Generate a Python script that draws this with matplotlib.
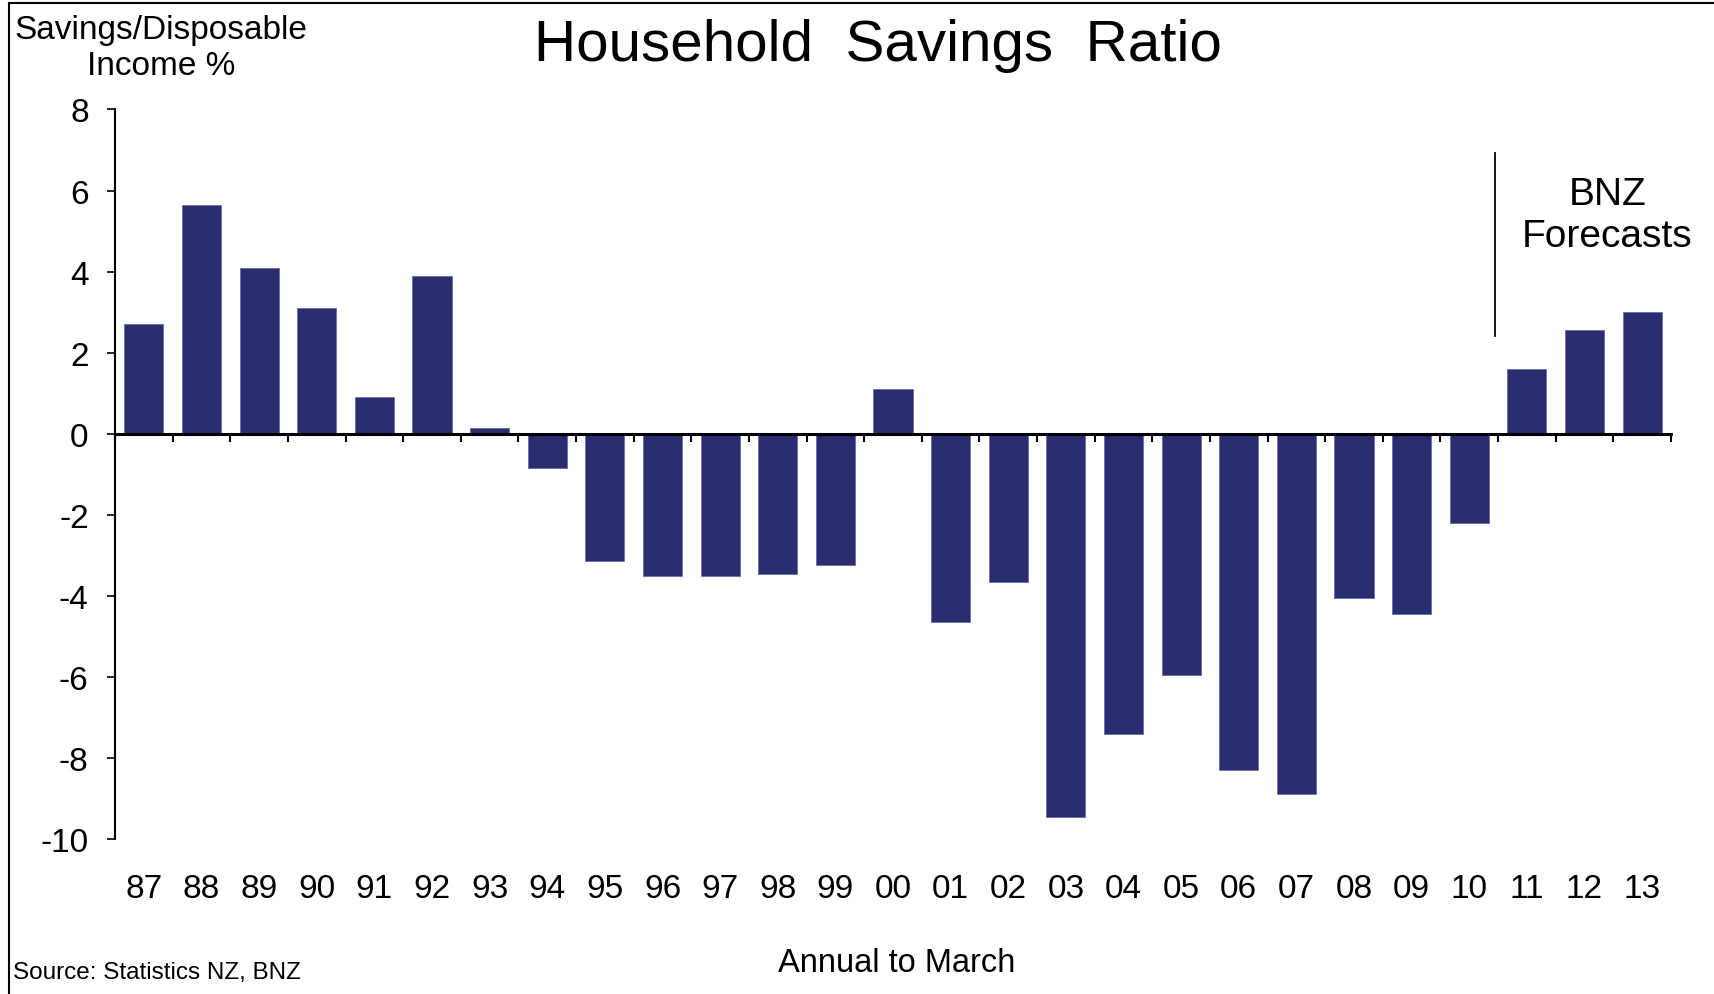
import numpy as np
import matplotlib
matplotlib.use("Agg")
import matplotlib.pyplot as plt
from matplotlib.lines import Line2D
from matplotlib import transforms

plt.rcParams['font.family'] = ['Liberation Sans', 'DejaVu Sans']

# data (annual to March)
years = ['87', '88', '89', '90', '91', '92', '93', '94', '95', '96', '97', '98', '99',
         '00', '01', '02', '03', '04', '05', '06', '07', '08', '09', '10', '11', '12', '13']
ratio = [2.7, 5.65, 4.1, 3.1, 0.9, 3.9, 0.15, -0.85, -3.15, -3.5, -3.5, -3.45, -3.25,
         1.1, -4.65, -3.65, -9.45, -7.4, -5.95, -8.3, -8.9, -4.05, -4.45, -2.2, 1.6, 2.55, 3.0]
yticks = [-10, -8, -6, -4, -2, 0, 2, 4, 6, 8]

fig = plt.figure(figsize=(17.15, 9.95), dpi=100)
ax = fig.add_axes([0.0671, 0.1558, 0.9072, 0.7332])

x = np.arange(len(years))
ax.bar(x, ratio, width=0.68, color='#2a2c70', edgecolor='#6a6ca8', linewidth=0.6, zorder=2)

ax.set_xlim(-0.5, len(years) - 0.5)
ax.set_ylim(-10, 8)

for s in ['top', 'right']:
    ax.spines[s].set_visible(False)
ax.spines['bottom'].set_position(('data', 0))
ax.spines['bottom'].set_linewidth(2.2)
ax.spines['bottom'].set_zorder(3)
ax.spines['left'].set_linewidth(1.5)

ax.set_yticks(yticks)
ax.set_yticklabels([str(v) for v in yticks])
ax.tick_params(axis='y', direction='out', length=6, width=1.2, pad=13, labelsize=24)
ax.set_xticks(np.arange(-0.5, len(years)))
ax.set_xticklabels([])
ax.tick_params(axis='x', direction='out', length=6, width=1.5)

# category labels sit under the plot, not at the zero line
trans = transforms.blended_transform_factory(ax.transData, ax.transAxes)
for xi, lab in zip(x, years):
    ax.text(xi, -0.068, lab, transform=trans, ha='center', va='center', fontsize=24)

# forecast marker
ax.plot([23.45, 23.45], [2.4, 6.93], color='black', linewidth=1.3)
ax.text(25.4, 5.4, 'BNZ\nForecasts', ha='center', va='center', fontsize=28, linespacing=1.2)

fig.text(0.512, 0.954, 'Household  Savings  Ratio', ha='center', va='center', fontsize=42)
fig.text(0.094, 0.951, 'Savings/Disposable\nIncome %', ha='center', va='center',
         fontsize=24, linespacing=1.2)
fig.text(0.523, 0.032, 'Annual to March', ha='center', va='center', fontsize=23.5)
fig.text(0.0076, 0.022, 'Source: Statistics NZ, BNZ', ha='left', va='center', fontsize=17.5)

# outer frame (left and top edges visible)
fig.add_artist(Line2D([0.005, 0.005], [0, 0.996], transform=fig.transFigure, color='black', linewidth=1.5))
fig.add_artist(Line2D([0.005, 1], [0.996, 0.996], transform=fig.transFigure, color='black', linewidth=1.5))

fig.savefig('out.png', dpi=100)
